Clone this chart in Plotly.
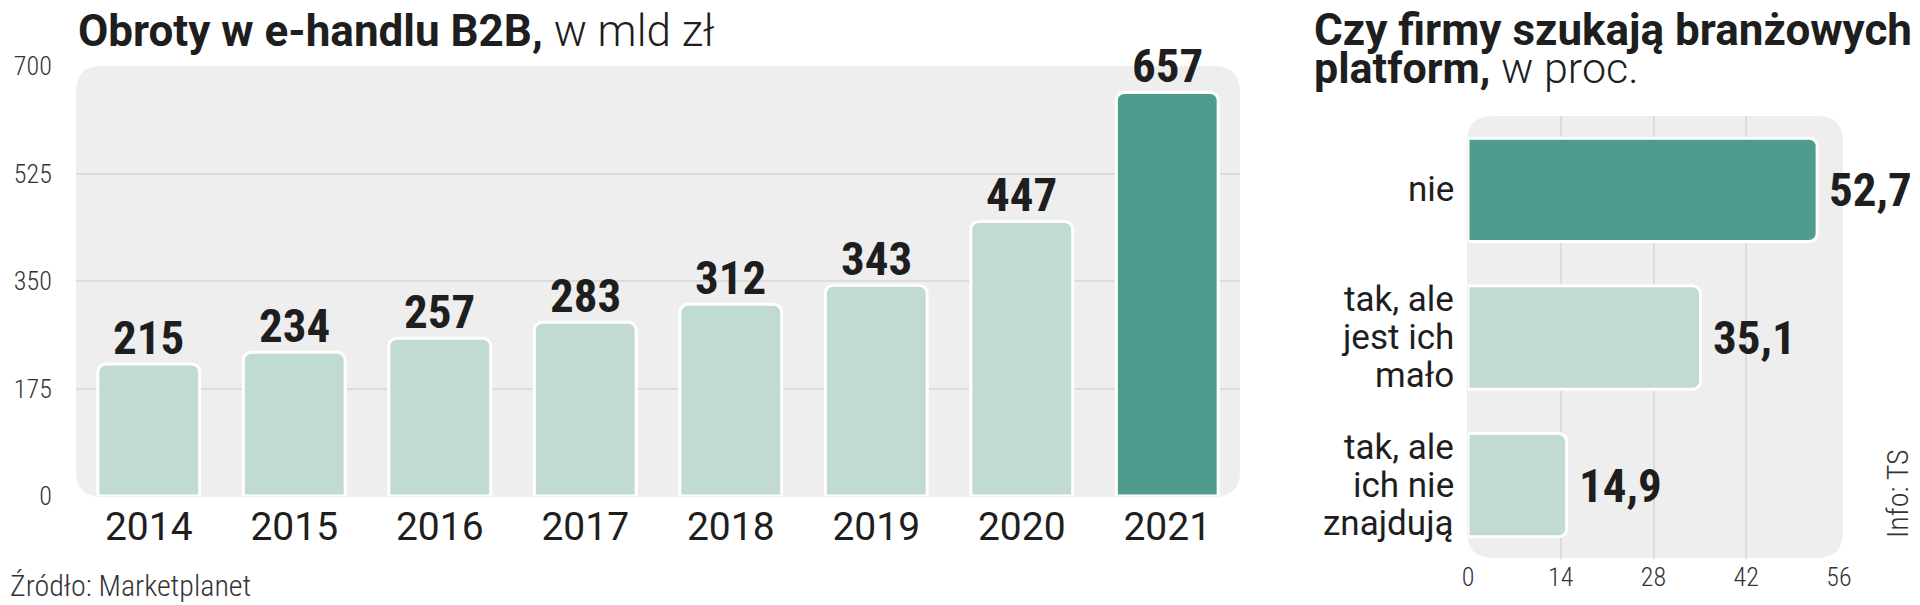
import plotly.graph_objects as go

# ---------------- data ----------------
years = ["2014", "2015", "2016", "2017", "2018", "2019", "2020", "2021"]
turnover = [215, 234, 257, 283, 312, 343, 447, 657]
y_ticks = [0, 175, 350, 525, 700]
y_grid = [175, 350, 525]

answers = [["nie"], ["tak, ale", "jest ich", "mało"], ["tak, ale", "ich nie", "znajdują"]]
shares = [52.7, 35.1, 14.9]
x_ticks = [0, 14, 28, 42, 56]
x_grid = [14, 28, 42]

LIGHT = "#c1dad3"
DARK = "#4f9c8f"
BG = "#eeeeee"
GRID = "#dcdcdc"
TXT = "#1e1e1e"

COND = "Roboto Condensed, Roboto, sans-serif"
REG = "Roboto, sans-serif"

W, H = 1920, 605
OFF = 8  # page body margin of the html page


def px(x):
    return (x - OFF) / W


def py(y):
    return 1 - (y - OFF) / H


def rounded(x0, y0, x1, y1, r):
    rx, ry = r / W, r / H
    X0, X1 = px(x0), px(x1)
    Yt, Yb = py(y0), py(y1)
    return (f"M {X0+rx},{Yt} L {X1-rx},{Yt} Q {X1},{Yt} {X1},{Yt-ry} "
            f"L {X1},{Yb+ry} Q {X1},{Yb} {X1-rx},{Yb} L {X0+rx},{Yb} "
            f"Q {X0},{Yb} {X0},{Yb+ry} L {X0},{Yt-ry} Q {X0},{Yt} {X0+rx},{Yt} Z")


fig = go.Figure()

colors_left = [LIGHT] * (len(years) - 1) + [DARK]
fig.add_trace(go.Bar(
    x=list(range(len(years))), y=turnover, xaxis="x", yaxis="y",
    marker=dict(color=colors_left, line=dict(color="white", width=3), cornerradius=8),
    width=0.7, hoverinfo="skip",
))

colors_right = [DARK] + [LIGHT] * (len(answers) - 1)
fig.add_trace(go.Bar(
    x=shares, y=list(range(len(answers))), orientation="h", xaxis="x2", yaxis="y2",
    marker=dict(color=colors_right, line=dict(color="white", width=3), cornerradius=8),
    width=0.7, hoverinfo="skip",
))

annotations = []
for i, v in enumerate(turnover):
    annotations.append(dict(
        x=i, y=v, xref="x", yref="y", text=f"<b>{v}</b>", showarrow=False,
        yanchor="bottom", yshift=-3,
        font=dict(family=COND, size=47, color=TXT),
    ))
for i, v in enumerate(shares):
    annotations.append(dict(
        x=v, y=i, xref="x2", yref="y2", text="<b>" + f"{v:.1f}".replace(".", ",") + "</b>",
        showarrow=False, xanchor="left", xshift=10,
        font=dict(family=COND, size=47, color=TXT),
    ))
# category labels of the right chart, one line each (tight leading)
LEAD = 38
for i, lines in enumerate(answers):
    n = len(lines)
    for k, line in enumerate(lines):
        annotations.append(dict(
            x=0, y=i, xref="x2", yref="y2", text=line, showarrow=False,
            xanchor="right", yanchor="middle", xshift=-12,
            yshift=((n - 1) / 2 - k) * LEAD,
            font=dict(family=REG, size=35, color=TXT),
        ))

annotations += [
    dict(x=px(76), y=py(31), xref="paper", yref="paper", xanchor="left", yanchor="middle",
         showarrow=False, align="left",
         text="<b>Obroty w e-handlu B2B,</b> <span style='font-weight:300'>w mld zł</span>",
         font=dict(family=REG, size=44, color=TXT)),
    dict(x=px(1312), y=py(30), xref="paper", yref="paper", xanchor="left", yanchor="middle",
         showarrow=False, align="left",
         text="<b>Czy firmy szukają branżowych</b>",
         font=dict(family=REG, size=44, color=TXT)),
    dict(x=px(1312), y=py(68), xref="paper", yref="paper", xanchor="left", yanchor="middle",
         showarrow=False, align="left",
         text="<b>platform,</b> <span style='font-weight:300'>w proc.</span>",
         font=dict(family=REG, size=43, color=TXT)),
    dict(x=0, y=py(585), xref="paper", yref="paper", xanchor="left", yanchor="middle",
         showarrow=False, text="Źródło: Marketplanet",
         font=dict(family=COND, size=30, color="#333333", weight=300)),
    dict(x=px(1898), y=py(494), xref="paper", yref="paper", xanchor="center", yanchor="middle",
         showarrow=False, text="Info: TS", textangle=-90,
         font=dict(family=COND, size=30, color="#333333", weight=300)),
]

shapes = [
    dict(type="path", xref="paper", yref="paper", layer="below",
         path=rounded(76, 66, 1240, 497, 26), fillcolor=BG, line=dict(width=0)),
    dict(type="path", xref="paper", yref="paper", layer="below",
         path=rounded(1467, 116, 1843, 558, 26), fillcolor=BG, line=dict(width=0)),
]

fig.update_layout(
    width=W, height=H, margin=dict(l=0, r=0, t=0, b=0, autoexpand=False),
    paper_bgcolor="white", plot_bgcolor="rgba(0,0,0,0)",
    showlegend=False,
    annotations=annotations, shapes=shapes,
    xaxis=dict(domain=[px(76), px(1240)], range=[-0.5, len(years) - 0.5], automargin=False,
               tickvals=list(range(len(years))), ticktext=years,
               showgrid=False, zeroline=False, showline=False,
               ticks="", ticklabelstandoff=4,
               tickfont=dict(family=REG, size=39, color=TXT), fixedrange=True),
    yaxis=dict(domain=[py(496), py(66)], range=[0, 700], tickvals=y_ticks, automargin=False,
               showgrid=False, zeroline=False, showline=False,
               minor=dict(tickvals=y_grid, showgrid=True, gridcolor=GRID, gridwidth=1.5, ticks=""),
               ticks="outside", ticklen=18, tickcolor="rgba(0,0,0,0)",
               tickfont=dict(family=COND, size=26, color="#333333", weight=300), fixedrange=True),
    xaxis2=dict(domain=[px(1468), px(1839)], range=[0, 56], tickvals=x_ticks, anchor="y2",
                automargin=False, showgrid=False, zeroline=False, showline=False,
                minor=dict(tickvals=x_grid, showgrid=True, gridcolor=GRID, gridwidth=1.5, ticks=""),
                ticks="",
                tickfont=dict(family=COND, size=26, color="#333333", weight=300), fixedrange=True),
    yaxis2=dict(domain=[py(559), py(116)], range=[len(answers) - 0.5, -0.5], anchor="x2",
                automargin=False, showticklabels=False,
                showgrid=False, zeroline=False, showline=False, fixedrange=True),
)

fig.write_html("out.html")
